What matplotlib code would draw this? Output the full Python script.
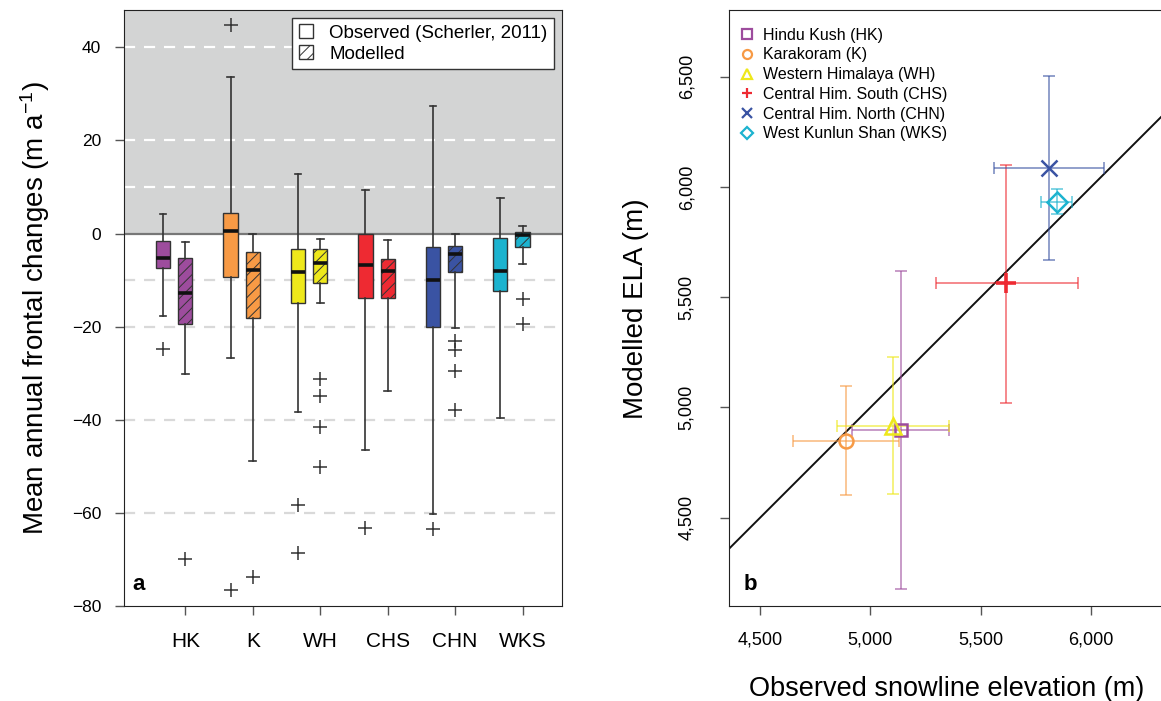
import numpy as np
import matplotlib
matplotlib.use('Agg')
import matplotlib.pyplot as plt
from matplotlib.patches import Patch
from matplotlib.lines import Line2D
from matplotlib.ticker import FuncFormatter

plt.rcParams['font.family'] = ['Liberation Sans', 'DejaVu Sans']
plt.rcParams['mathtext.fontset'] = 'custom'
plt.rcParams['mathtext.rm'] = 'Liberation Sans'
plt.rcParams['mathtext.default'] = 'regular'
plt.rcParams['hatch.linewidth'] = 0.7

# ---------------------------------------------------------------------------
# data
# ---------------------------------------------------------------------------
regions = ['HK', 'K', 'WH', 'CHS', 'CHN', 'WKS']
colors = ['#9D4C9D', '#F79A45', '#EEE81B', '#EE2A32', '#3A53A3', '#1CB3CF']

# panel a: observed (Scherler, 2011)
obs_whislo = [-17.8, -26.8, -38.3, -46.5, -60.3, -39.6]
obs_q1 = [-7.3, -9.4, -14.9, -13.8, -20.0, -12.4]
obs_med = [-5.2, 0.6, -8.3, -6.8, -9.9, -8.0]
obs_q3 = [-1.6, 4.4, -3.3, 0.0, -3.0, -1.0]
obs_whishi = [4.2, 33.7, 12.7, 9.4, 27.3, 7.6]
obs_fliers = [[-24.7], [44.8, -76.6], [-58.3, -68.7], [-63.2], [-63.5], []]

# panel a: modelled
mod_whislo = [-30.2, -48.8, -14.9, -33.8, -20.3, -6.5]
mod_q1 = [-19.5, -18.2, -10.6, -13.8, -8.3, -3.0]
mod_med = [-12.7, -7.9, -6.4, -8.1, -4.3, -0.3]
mod_q3 = [-5.3, -4.0, -3.3, -5.4, -2.6, 0.4]
mod_whishi = [-1.9, -0.1, -1.1, -1.3, 0.0, 1.7]
mod_fliers = [[-70.0], [-73.7], [-31.3, -35.0, -41.6, -50.1], [],
              [-23.0, -25.0, -29.5, -37.8], [-14.0, -19.5]]

# panel b: observed snowline vs modelled ELA (m)
names = ['Hindu Kush (HK)', 'Karakoram (K)', 'Western Himalaya (WH)',
         'Central Him. South (CHS)', 'Central Him. North (CHN)',
         'West Kunlun Shan (WKS)']
markers = ['s', 'o', '^', '+', 'x', 'D']
snow_x = [5137, 4889, 5101, 5616, 5810, 5843]
snow_lo = [4918, 4649, 4849, 5296, 5559, 5775]
snow_hi = [5356, 5130, 5356, 5941, 6059, 5911]
ela_y = [4899, 4849, 4917, 5562, 6087, 5931]
ela_lo = [4178, 4601, 4610, 5020, 5669, 5877]
ela_hi = [5619, 5097, 5228, 6101, 6502, 5990]


def box_stats(lo, q1, med, q3, hi, fl):
    return [dict(whislo=a, q1=b, med=c, q3=d, whishi=e, fliers=f)
            for a, b, c, d, e, f in zip(lo, q1, med, q3, hi, fl)]


fig = plt.figure(figsize=(11.61, 7.01), dpi=100)

# ---------------------------------------------------------------------------
# panel a: boxplots
# ---------------------------------------------------------------------------
ax = fig.add_axes([0.1068, 0.1355, 0.3770, 0.8502])
ax.set_xlim(0.09, 6.58)
ax.set_ylim(-80, 48)
ax.axhspan(0, 60, color='#d3d4d4', zorder=0, lw=0)
for yv in [10, 20, 40]:
    ax.axhline(yv, color='white', lw=1.6, ls=(0, (5, 4)), zorder=1)
for yv in [-10, -20, -40, -60]:
    ax.axhline(yv, color='#d9d9d9', lw=1.6, ls=(0, (5, 4)), zorder=1)
ax.axhline(0, color='#777777', lw=1.6, zorder=1)

pos = np.arange(1, len(regions) + 1)
common = dict(widths=0.21, capwidths=0.1, patch_artist=True,
              showfliers=True, manage_ticks=False,
              boxprops=dict(edgecolor='#333333', lw=1.0),
              whiskerprops=dict(color='#333333', lw=1.2),
              capprops=dict(color='#333333', lw=1.2),
              medianprops=dict(color='#111111', lw=2.6),
              flierprops=dict(marker='+', markersize=10, markeredgewidth=1.1,
                              markeredgecolor='#333333'))
bo = ax.bxp(box_stats(obs_whislo, obs_q1, obs_med, obs_q3, obs_whishi, obs_fliers),
            positions=pos - 0.33, **common)
bm = ax.bxp(box_stats(mod_whislo, mod_q1, mod_med, mod_q3, mod_whishi, mod_fliers),
            positions=pos, **common)
for patch, c in zip(bo['boxes'], colors):
    patch.set_facecolor(c)
for patch, c in zip(bm['boxes'], colors):
    patch.set_facecolor(c)
    patch.set_hatch('///')

ax.set_xticks(pos)
ax.set_xticklabels(regions, fontsize=15)
ax.set_yticks([-80, -60, -40, -20, 0, 20, 40])
ax.set_yticklabels(['\u221280', '\u221260', '\u221240', '\u221220', '0', '20', '40'])
ax.tick_params(axis='y', labelsize=12.5, length=6.5, width=1, color='#555555', pad=10)
ax.tick_params(axis='x', length=6.5, width=1, color='#555555', pad=12)
ax.set_ylabel('Mean annual frontal changes (m a$^{\u22121}$)', fontsize=20, labelpad=14)
for sp in ax.spines.values():
    sp.set_color('#222222')
ax.text(0.02, 0.018, 'a', transform=ax.transAxes, fontsize=16, fontweight='bold',
        ha='left', va='bottom')

leg_handles = [Patch(facecolor='white', edgecolor='#333333', lw=1.0),
               Patch(facecolor='white', edgecolor='#333333', lw=1.0, hatch='///')]
leg = ax.legend(leg_handles, ['Observed (Scherler, 2011)', 'Modelled'],
                loc='upper right', bbox_to_anchor=(0.982, 0.987), fontsize=13.5,
                fancybox=False, framealpha=1, edgecolor='#333333',
                handlelength=0.75, handleheight=0.75, handletextpad=0.85,
                borderpad=0.35, labelspacing=0.2, borderaxespad=0)
leg.get_frame().set_linewidth(1.0)

# ---------------------------------------------------------------------------
# panel b: observed snowline vs modelled ELA
# ---------------------------------------------------------------------------
bx = fig.add_axes([0.6282, 0.1355, 0.5134, 0.8497])
bx.set_xlim(4361, 7061)
bx.set_ylim(4100, 6800)
bx.plot([4000, 7200], [4000, 7200], color='#111111', lw=1.4, zorder=2)

handles = []
for i in range(len(names)):
    xe = [[snow_x[i] - snow_lo[i]], [snow_hi[i] - snow_x[i]]]
    ye = [[ela_y[i] - ela_lo[i]], [ela_hi[i] - ela_y[i]]]
    bx.errorbar([snow_x[i]], [ela_y[i]], xerr=xe, yerr=ye, fmt='none',
                ecolor=colors[i], alpha=0.6, elinewidth=1.3, capsize=4,
                capthick=1.3, zorder=3)
    ms = {'s': 9, 'o': 10, '^': 11, '+': 15, 'x': 11, 'D': 10}[markers[i]]
    mew = 2.6 if markers[i] == '+' else 1.8
    bx.plot([snow_x[i]], [ela_y[i]], ls='none', marker=markers[i],
            markersize=ms, markerfacecolor='none', markeredgecolor=colors[i],
            markeredgewidth=mew, zorder=4)
    handles.append(Line2D([], [], ls='none', marker=markers[i], markersize=6.5,
                          markerfacecolor='none', markeredgecolor=colors[i],
                          markeredgewidth=1.6))

bx.legend(handles, names, loc='upper left', bbox_to_anchor=(0.0, 0.99),
          frameon=False, fontsize=11.5, handlelength=0.8, handletextpad=0.6,
          labelspacing=0.3, borderaxespad=0.3)

fmt = FuncFormatter(lambda v, p: f'{v:,.0f}')
bx.set_xticks([4500, 5000, 5500, 6000])
bx.set_yticks([4500, 5000, 5500, 6000, 6500])
bx.xaxis.set_major_formatter(fmt)
bx.yaxis.set_major_formatter(fmt)
bx.tick_params(axis='both', labelsize=13, length=6.5, width=1, color='#555555')
bx.tick_params(axis='x', pad=12)
bx.tick_params(axis='y', pad=18, labelrotation=90)
for lab in bx.get_yticklabels():
    lab.set_va('center')
bx.set_xlabel('Observed snowline elevation (m)', fontsize=19.5)
bx.xaxis.set_label_coords(0.365, -0.118)
bx.set_ylabel('Modelled ELA (m)', fontsize=20, labelpad=21)
for sp in bx.spines.values():
    sp.set_color('#222222')
bx.text(0.024, 0.018, 'b', transform=bx.transAxes, fontsize=16, fontweight='bold',
        ha='left', va='bottom')

fig.savefig('out.png', dpi=100)
